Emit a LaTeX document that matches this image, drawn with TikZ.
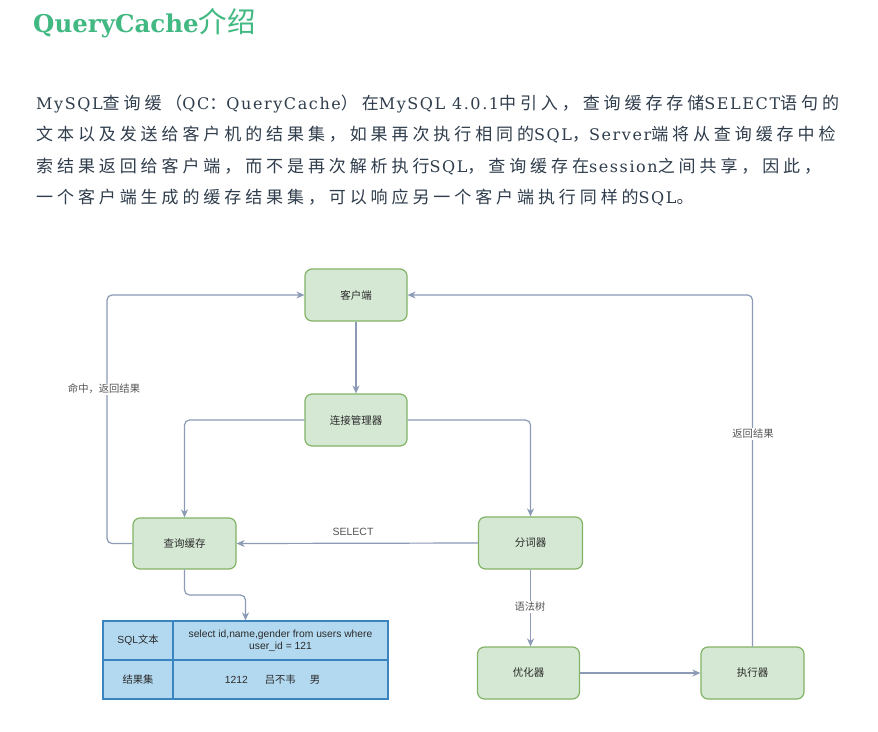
\documentclass[tikz,border=0pt]{standalone}
\usepackage{fontspec}
\setmainfont{Liberation Sans}
\newfontfamily\cjk{Noto Sans CJK SC}
\newfontfamily\qtitlef{DejaVu Serif}
\newfontfamily\parl{DejaVu Serif}[LetterSpace=10]
\newfontfamily\parc{Noto Sans CJK SC}[LetterSpace=23]
\newcommand\zh[1]{{\parc\fontsize{17}{20}\selectfont#1}}
\usetikzlibrary{arrows.meta}
\definecolor{vgreen}{HTML}{42B983}
\definecolor{ptext}{HTML}{2F3D4C}
\definecolor{nfill}{HTML}{D5E8D4}
\definecolor{nline}{HTML}{82B366}
\definecolor{eline}{HTML}{8C9AB6}
\definecolor{tfill}{HTML}{B3D9F0}
\definecolor{tline}{HTML}{3A84C0}
\definecolor{ntext}{HTML}{2A2A2A}
\definecolor{ltext}{HTML}{555555}
\tikzset{
  box/.style={draw=nline,fill=nfill,line width=1.2pt,rounded corners=7pt,
    minimum width=102pt,minimum height=52pt,inner sep=0pt,
    text=ntext,font=\cjk\fontsize{10.5}{12}\selectfont},
  edge/.style={draw=eline,line width=1.2pt,rounded corners=5pt,
    -{Stealth[length=8pt,width=7pt,inset=2.5pt]}},
  elabel/.style={fill=white,inner sep=1pt,text=ltext,font=\cjk\fontsize{10.3}{12}\selectfont},
  cell/.style={inner sep=0pt,text=ntext,font=\fontsize{10.3}{12}\selectfont,align=center},
  para/.style={anchor=base west,inner sep=0pt,text=ptext,font=\parl\fontsize{16}{20}\selectfont}
}
\begin{document}
\begin{tikzpicture}[x=1pt,y=-1pt]
\useasboundingbox[fill=white] (0,0) rectangle (878,731);
% title
\node[anchor=base west,inner sep=0pt,text=vgreen] (title) at (33,32)
  {{\qtitlef\bfseries\fontsize{24.5}{26}\selectfont QueryCache}{\cjk\fontsize{28.5}{30}\selectfont 介绍}};
% paragraph
\node[para] (l1) at (36,109) {MySQL\zh{查询缓（}QC\zh{：}QueryCache\zh{）在}MySQL 4.0.1\zh{中引入，查询缓存存储}SELECT\zh{语句的}};
\node[para] (l2) at (36,140.5) {\zh{文本以及发送给客户机的结果集，如果再次执行相同的}SQL\zh{，}Server\zh{端将从查询缓存中检}};
\node[para] (l3) at (36,172) {\zh{索结果返回给客户端，而不是再次解析执行}SQL\zh{，查询缓存在}session\zh{之间共享，因此，}};
\node[para] (l4) at (36,203.5) {\zh{一个客户端生成的缓存结果集，可以响应另一个客户端执行同样的}SQL\zh{。}};
% nodes
\node[box] (client) at (356,295) {客户端};
\node[box] (conn) at (356,420) {连接管理器};
\node[box,minimum width=103pt,minimum height=51pt] (cache) at (184.5,543.5) {查询缓存};
\node[box,minimum width=104pt] (fen) at (530.5,543) {分词器};
\node[box] (opt) at (528.5,673) {优化器};
\node[box,minimum width=103pt] (exec) at (752.5,673) {执行器};
% table
\node[draw=tline,fill=tfill,line width=1.2pt,minimum width=285pt,minimum height=78pt,inner sep=0pt] (tbl) at (245.5,660) {};
\coordinate (tv1) at (173,621);
\coordinate (tv2) at (173,699);
\coordinate (th1) at (103,660);
\coordinate (th2) at (388,660);
\draw[tline,line width=1.2pt] (tv1) -- (tv2);
\draw[tline,line width=1.2pt] (th1) -- (th2);
\node[cell] (c11) at (138,640.5) {SQL{\cjk 文本}};
\node[cell] (c12) at (280.5,641) {select id,name,gender from users where\\user\_id = 121};
\node[cell] (c21) at (138,680) {\cjk 结果集};
\node[cell] (c22) at (272.5,680) {1212\hspace{17pt}{\cjk 吕不韦}\hspace{14pt}{\cjk 男}};
% connectors
\coordinate (hit) at (107,420);
\coordinate (cdrop) at (185,595);
\draw[edge] (client) -- (conn);
\draw[edge] (conn.west) -| (cache.north);
\draw[edge] (conn.east) -| (fen.north);
\draw[edge] (fen.west) -- (cache.east);
\draw[edge] (cache.west) -| (hit) |- (client.west);
\draw[edge] (fen.south) -- (fen.south |- opt.north);
\draw[edge] (opt.east) -- (exec.west);
\draw[edge] (exec.north) |- (client.east);
\draw[edge] (cache.south) -- (cache.south |- cdrop) -| (tbl.north);
% edge labels
\node[elabel] (lhit) at (104,389) {命中，返回结果};
\node[elabel] (lret) at (753,434) {返回结果};
\node[elabel,font=\fontsize{10.5}{12}\selectfont] (lsel) at (353,532) {SELECT};
\node[elabel] (ltree) at (530,607) {语法树};
\end{tikzpicture}
\end{document}
